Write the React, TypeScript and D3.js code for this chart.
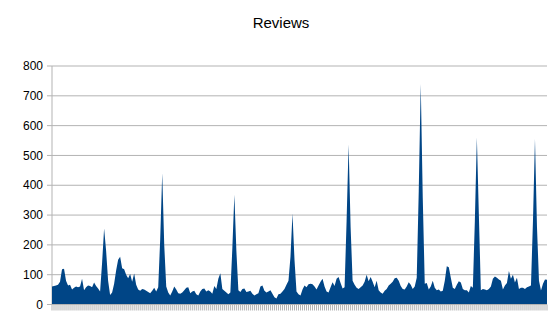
import React from 'react';
import * as d3 from 'd3';

const title = 'Reviews';

// one value per day
const reviews: number[] = [
  60, 62, 64, 66, 76, 118, 120, 80, 64, 66,
  50, 56, 60, 58, 60, 86, 48, 58, 64, 62,
  58, 74, 62, 54, 44, 140, 255, 180, 80, 32,
  40, 70, 114, 150, 160, 122, 118, 100, 88, 102,
  76, 104, 66, 50, 46, 52, 50, 46, 42, 38,
  46, 56, 44, 58, 220, 440, 200, 60, 40, 30,
  44, 60, 50, 38, 36, 40, 48, 56, 58, 38,
  44, 46, 34, 30, 44, 52, 54, 44, 48, 44,
  36, 62, 52, 86, 105, 52, 46, 40, 34, 40,
  190, 368, 180, 48, 42, 52, 54, 42, 44, 46,
  36, 30, 34, 38, 60, 64, 46, 40, 44, 48,
  36, 24, 20, 34, 36, 44, 52, 66, 80, 160,
  305, 150, 44, 34, 30, 50, 64, 58, 68, 70,
  68, 60, 50, 64, 76, 86, 60, 44, 40, 58,
  75, 62, 86, 92, 72, 54, 58, 280, 537, 260,
  80, 66, 56, 52, 58, 64, 76, 100, 78, 92,
  76, 58, 80, 48, 40, 36, 46, 52, 64, 70,
  76, 88, 90, 80, 62, 52, 50, 60, 75, 66,
  52, 60, 90, 380, 740, 360, 70, 72, 50, 60,
  80, 56, 48, 50, 44, 46, 80, 128, 125, 90,
  56, 52, 66, 78, 74, 52, 48, 48, 40, 62,
  56, 280, 560, 300, 48, 52, 50, 48, 52, 60,
  86, 94, 90, 84, 80, 50, 64, 72, 112, 86,
  100, 74, 90, 52, 56, 56, 52, 58, 60, 64,
  280, 555, 260, 80, 47, 70, 84, 83,
];

const yTicks = [0, 100, 200, 300, 400, 500, 600, 700, 800];

const W = 554;
const H = 328;
const left = 52;
const right = 547;
const top = 66;
const bottom = 304.5;

export default function App() {
  const days = reviews.map((_, i) => i);
  const x = d3.scalePoint<number>().domain(days).range([left, right]);
  const y = d3.scaleLinear().domain([0, 800]).range([bottom, top]);

  const area = d3
    .area<number>()
    .x((_, i) => x(i) as number)
    .y0(y(0))
    .y1((d) => y(d));

  return (
    <svg
      width={W}
      height={H}
      style={{ position: 'absolute', left: 0, top: 0, background: '#fff' }}
      fontFamily="'Liberation Sans', Arial, sans-serif"
    >
      <text x={281} y={28} textAnchor="middle" fontSize={15} fill="#000">
        {title}
      </text>

      {yTicks.map((t) => (
        <g key={t}>
          <line x1={left} x2={right} y1={y(t)} y2={y(t)} stroke="#b3b3b3" strokeWidth={1} />
          <line x1={left - 5} x2={left} y1={y(t)} y2={y(t)} stroke="#b3b3b3" strokeWidth={1} />
          <text x={43} y={y(t)} dy="0.35em" textAnchor="end" fontSize={12} fill="#000">
            {t}
          </text>
        </g>
      ))}

      <line x1={left} x2={left} y1={top} y2={bottom} stroke="#b3b3b3" strokeWidth={1} />

      <path d={area(reviews) ?? ''} fill="#004586" />

      <line x1={left} x2={right} y1={bottom} y2={bottom} stroke="#b3b3b3" strokeWidth={1} />
      {days.map((i) => (
        <line
          key={i}
          x1={x(i)}
          x2={x(i)}
          y1={bottom}
          y2={bottom + 6}
          stroke="#b3b3b3"
          strokeWidth={1}
        />
      ))}
    </svg>
  );
}
